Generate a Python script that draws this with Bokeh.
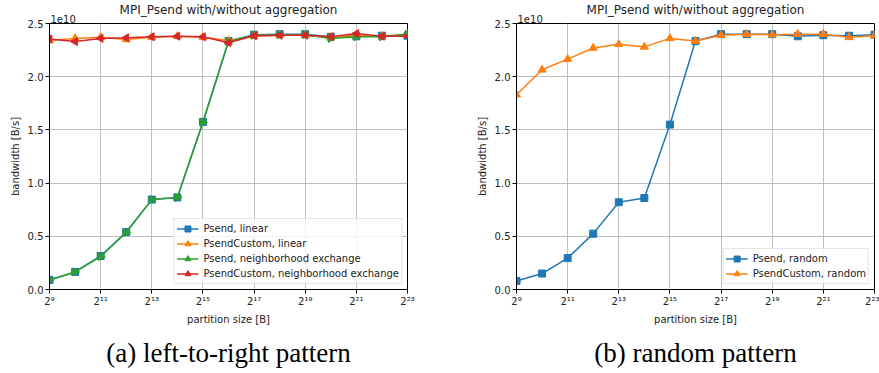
import math
from bokeh.plotting import figure
from bokeh.layouts import row
from bokeh.models import FixedTicker, Title, Legend
from bokeh.embed import file_html
from bokeh.resources import INLINE

# ---------------- data ----------------
partition_sizes = [512, 1024, 2048, 4096, 8192, 16384, 32768, 65536, 131072,
                   262144, 524288, 1048576, 2097152, 4194304, 8388608]
x_ticks = [512, 2048, 8192, 32768, 131072, 524288, 2097152, 8388608]
x_tick_labels = ["2⁹", "2¹¹", "2¹³", "2¹⁵", "2¹⁷", "2¹⁹", "2²¹", "2²³"]
y_ticks = [0.0, 0.5, 1.0, 1.5, 2.0, 2.5]
y_tick_labels = ["0.0", "0.5", "1.0", "1.5", "2.0", "2.5"]

# bandwidth in units of 1e10 B/s
psend_linear = [0.09, 0.165, 0.315, 0.54, 0.845, 0.865, 1.575, 2.335, 2.395,
                2.40, 2.40, 2.375, 2.38, 2.385, 2.385]
psend_custom_linear = [2.34, 2.36, 2.37, 2.35, 2.37, 2.38, 2.37, 2.34, 2.38,
                       2.39, 2.39, 2.37, 2.39, 2.38, 2.40]
psend_neighbor = [0.09, 0.165, 0.31, 0.535, 0.845, 0.865, 1.57, 2.33, 2.39,
                  2.395, 2.395, 2.36, 2.375, 2.375, 2.40]
psend_custom_neighbor = [2.355, 2.33, 2.36, 2.365, 2.375, 2.38, 2.375, 2.32, 2.385,
                         2.39, 2.39, 2.375, 2.405, 2.38, 2.38]

psend_random = [0.08, 0.15, 0.295, 0.525, 0.82, 0.86, 1.55, 2.335, 2.40,
                2.40, 2.40, 2.38, 2.39, 2.385, 2.395]
psend_custom_random = [1.83, 2.065, 2.165, 2.27, 2.305, 2.28, 2.36, 2.335, 2.39,
                       2.40, 2.395, 2.40, 2.40, 2.37, 2.385]

title_text = "MPI_Psend with/without aggregation"
offset_text = "1e10"
captions = ["(a) left-to-right pattern", "(b) random pattern"]

BLUE, ORANGE, GREEN, RED = "#1f77b4", "#ff7f0e", "#2ca02c", "#d62728"
FONT = "DejaVu Sans"
FRAME_W, FRAME_H = 358, 266


def make_panel(series, caption, border_right):
    p = figure(x_axis_type="log", x_range=(512, 8388608), y_range=(0, 2.5),
               frame_width=FRAME_W, frame_height=FRAME_H,
               output_backend="svg", toolbar_location=None,
               min_border_left=49, min_border_top=23, min_border_bottom=84,
               min_border_right=border_right)
    p.border_fill_color = "white"
    p.title.text = title_text
    p.title.align = "center"
    p.title.text_font = FONT
    p.title.text_font_size = "12px"
    p.title.text_font_style = "normal"
    p.title.text_color = "#222222"
    p.title.standoff = -9

    # offset text ("1e10") just above the top-left corner of the frame
    p.add_layout(Title(text=offset_text, align="left", offset=1, standoff=1,
                       text_font=FONT, text_font_size="10px",
                       text_font_style="normal", text_color="#222222"), "above")

    p.outline_line_color = "black"
    p.outline_line_width = 1
    p.background_fill_color = "white"

    for ax in (p.xaxis[0], p.yaxis[0]):
        ax.axis_line_color = "black"
        ax.major_tick_line_color = "black"
        ax.major_tick_out = 4
        ax.major_tick_in = 0
        ax.minor_tick_line_color = None
        ax.major_label_text_font = FONT
        ax.major_label_text_font_size = "10px"
        ax.major_label_text_color = "#222222"
        ax.axis_label_text_font = FONT
        ax.axis_label_text_font_size = "10px"
        ax.axis_label_text_font_style = "normal"
        ax.axis_label_text_color = "#222222"
        ax.major_label_standoff = 2
        ax.axis_label_standoff = 4

    p.xaxis.ticker = FixedTicker(ticks=x_ticks)
    p.xaxis.major_label_overrides = {t: l for t, l in zip(x_ticks, x_tick_labels)}
    p.yaxis.ticker = FixedTicker(ticks=y_ticks)
    p.yaxis.major_label_overrides = {t: l for t, l in zip(y_ticks, y_tick_labels)}
    p.xaxis.axis_label = "partition size [B]"
    p.yaxis.axis_label = "bandwidth [B/s]"

    p.xgrid.grid_line_color = "#b0b0b0"
    p.ygrid.grid_line_color = "#b0b0b0"
    p.xgrid.grid_line_width = 0.8
    p.ygrid.grid_line_width = 0.8

    items = []
    for name, vals, color, marker, angle, msize in series:
        l = p.line(partition_sizes, vals, line_color=color, line_width=1.5)
        s = p.scatter(partition_sizes, vals, marker=marker, size=msize, angle=angle,
                      fill_color=color, line_color=color)
        items.append((name, [l, s]))
    legend = Legend(items=items, location="bottom_right")
    legend.label_text_font = FONT
    legend.label_text_font_size = "10px"
    legend.label_text_color = "#222222"
    legend.border_line_color = "#cccccc"
    legend.background_fill_alpha = 0.8
    legend.padding = 2
    legend.spacing = 0
    legend.margin = 5
    legend.label_height = 15
    legend.glyph_height = 15
    legend.glyph_width = 22
    legend.label_standoff = 5
    p.add_layout(legend, "center")

    cap = Title(text=caption, align="center", text_font="Liberation Serif",
                text_font_size="27px", text_font_style="normal",
                text_color="black", standoff=16)
    p.add_layout(cap, "below")
    return p


left = make_panel([
    ("Psend, linear", psend_linear, BLUE, "square", 0.0, 7),
    ("PsendCustom, linear", psend_custom_linear, ORANGE, "triangle", 0.0, 8),
    ("Psend, neighborhood exchange", psend_neighbor, GREEN, "triangle", -math.pi / 2, 8),
    ("PsendCustom, neighborhood exchange", psend_custom_neighbor, RED, "triangle", math.pi / 2, 8),
], captions[0], 60)

right = make_panel([
    ("Psend, random", psend_random, BLUE, "square", 0.0, 7),
    ("PsendCustom, random", psend_custom_random, ORANGE, "triangle", 0.0, 8),
], captions[1], 5)

layout = row(left, right)
open("out.html", "w").write(file_html(layout, INLINE))
